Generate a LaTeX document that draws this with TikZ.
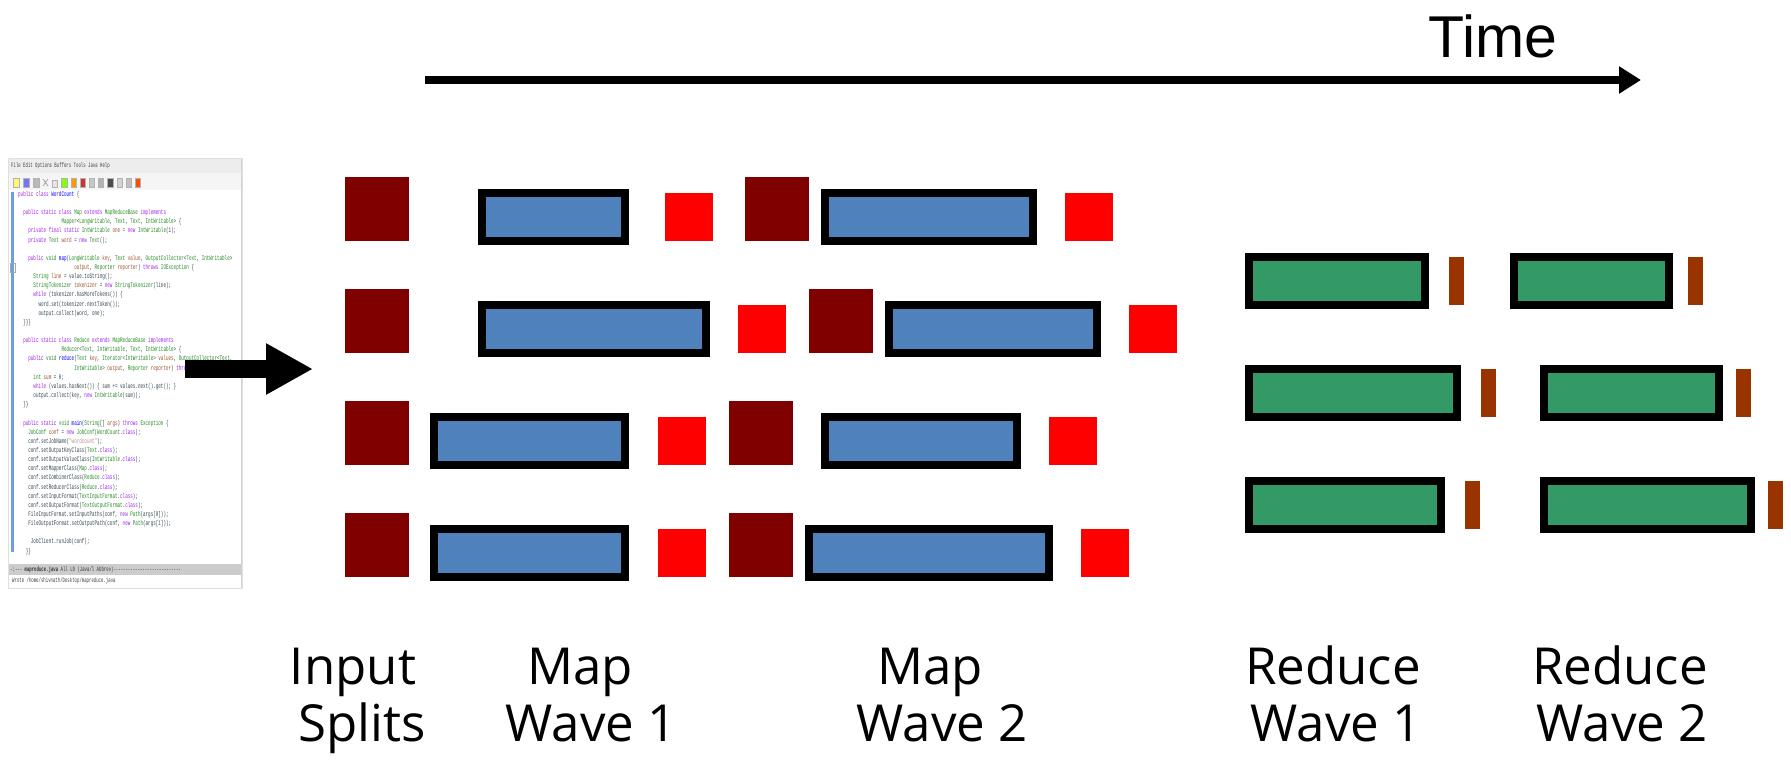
\documentclass[tikz,border=0pt]{standalone}
\usepackage{fontspec}
\setmainfont{Open Sans}
\newfontfamily\timefont{Liberation Sans}
\newfontfamily\codefont[FakeStretch=0.607,Ligatures=TeXOff]{Liberation Mono}
\usetikzlibrary{arrows.meta}
\definecolor{mapblue}{RGB}{79,129,189}
\definecolor{redgreen}{RGB}{51,153,102}
\definecolor{splitred}{RGB}{128,0,0}
\definecolor{sortred}{RGB}{255,0,0}
\definecolor{outbrown}{RGB}{153,51,0}
\definecolor{kwc}{RGB}{160,32,240}
\definecolor{tyc}{RGB}{34,139,34}
\definecolor{fncol}{RGB}{0,0,255}
\definecolor{vrc}{RGB}{160,82,45}
\definecolor{stc}{RGB}{188,143,143}
\definecolor{txc}{RGB}{50,70,80}
\definecolor{fringe}{RGB}{110,160,225}
\newcommand\kwd[1]{\textcolor{kwc}{#1}}
\newcommand\typ[1]{\textcolor{tyc}{#1}}
\newcommand\fnc[1]{\textcolor{fncol}{#1}}
\newcommand\vrb[1]{\textcolor{vrc}{#1}}
\newcommand\strg[1]{\textcolor{stc}{#1}}
\newcommand\ind[1]{\hspace*{#1\fontcharwd\font`\M}}
\begin{document}
\begin{tikzpicture}[x=1pt,y=-1pt,
  splitbox/.style={fill=splitred,draw=none,minimum width=64pt,minimum height=64pt,inner sep=0pt,outer sep=0pt},
  sortbox/.style={fill=sortred,draw=none,minimum width=48pt,minimum height=48pt,inner sep=0pt,outer sep=0pt},
  mapbox/.style={fill=mapblue,draw=black,line width=8pt,minimum height=48pt,inner sep=0pt,outer sep=0pt},
  redbox/.style={fill=redgreen,draw=black,line width=8pt,minimum height=48pt,inner sep=0pt,outer sep=0pt},
  outbar/.style={fill=outbrown,draw=none,minimum width=15pt,minimum height=48pt,inner sep=0pt,outer sep=0pt},
  lbl/.style={font=\fontsize{51}{55}\selectfont,anchor=base,inner sep=0pt},
  tiny/.style={font=\codefont\fontsize{6.6}{6.6}\selectfont,inner sep=0pt,anchor=west},
  icon/.style={draw=gray!60,line width=0.4pt},
  ]
\useasboundingbox[fill=white] (0,0) rectangle (1791,761);

% ---------- code window ----------
\fill[white] (8,158) rectangle (242,588);
\fill[gray!14] (8,159) rectangle (242,173);
\node[tiny,text=black!75] (menu) at (11,166) {File Edit Options Buffers Tools Java Help};
\fill[gray!8] (8,173) rectangle (242,190);
\filldraw[icon,fill=yellow!55] (13,178) rectangle (19,187);
\filldraw[icon,fill=blue!55] (23,178) rectangle (29,187);
\filldraw[icon,fill=gray!55] (33,178) rectangle (39,187);
\draw[gray!70,line width=0.8pt] (43,179) -- (48,186) (43,186) -- (48,179);
\filldraw[icon,fill=gray!20] (52,180) rectangle (57,187);
\filldraw[icon,fill=green!50!yellow] (61,178) rectangle (67,187);
\filldraw[icon,fill=orange!80!yellow] (71,178) rectangle (76,187);
\filldraw[icon,fill=red!60!gray] (80,178) rectangle (85,187);
\filldraw[icon,fill=gray!45] (89,178) rectangle (94,187);
\filldraw[icon,fill=gray!60] (98,178) rectangle (103,187);
\filldraw[icon,fill=black!70] (107,178) rectangle (113,187);
\filldraw[icon,fill=gray!35] (117,178) rectangle (122,187);
\filldraw[icon,fill=gray!50] (126,178) rectangle (131,187);
\filldraw[icon,fill=red!40!orange] (135,178) rectangle (140,187);
\fill[fringe] (11,192) rectangle (13.5,552);
\draw[gray!70,line width=0.6pt] (10.5,263) rectangle (15,272);
\begin{scope}
\clip (9,190) rectangle (240,562);
\node[anchor=north west,inner sep=0pt,align=left,font=\codefont\fontsize{7}{9.15}\selectfont,text=txc] (code) at (18,191) {%
\kwd{public} \kwd{class} \fnc{WordCount} \{\\
\mbox{}\\
\ind2\kwd{public} \kwd{static} \kwd{class} \typ{Map} \kwd{extends} \typ{MapReduceBase} \kwd{implements}\\
\ind{17}\typ{Mapper}<\typ{LongWritable}, \typ{Text}, \typ{Text}, \typ{IntWritable}> \{\\
\ind4\kwd{private} \kwd{final} \kwd{static} \typ{IntWritable} \vrb{one} = \kwd{new} \typ{IntWritable}(1);\\
\ind4\kwd{private} \typ{Text} \vrb{word} = \kwd{new} \typ{Text}();\\
\mbox{}\\
\ind4\kwd{public} \typ{void} \fnc{map}(\typ{LongWritable} \vrb{key}, \typ{Text} \vrb{value}, \typ{OutputCollector}<\typ{Text}, \typ{IntWritable}>\\
\ind{22}\vrb{output}, \typ{Reporter} \vrb{reporter}) \kwd{throws} \typ{IOException} \{\\
\ind6\typ{String} \vrb{line} = value.toString();\\
\ind6\typ{StringTokenizer} \vrb{tokenizer} = \kwd{new} \typ{StringTokenizer}(line);\\
\ind6\kwd{while} (tokenizer.hasMoreTokens()) \{\\
\ind{8}word.set(tokenizer.nextToken());\\
\ind{8}output.collect(word, one);\\
\ind2\}\}\}\\
\mbox{}\\
\ind2\kwd{public} \kwd{static} \kwd{class} \typ{Reduce} \kwd{extends} \typ{MapReduceBase} \kwd{implements}\\
\ind{17}\typ{Reducer}<\typ{Text}, \typ{IntWritable}, \typ{Text}, \typ{IntWritable}> \{\\
\ind4\kwd{public} \typ{void} \fnc{reduce}(\typ{Text} \vrb{key}, \typ{Iterator}<\typ{IntWritable}> \vrb{values}, \typ{OutputCollector}<\typ{Text},\\
\ind{22}\typ{IntWritable}> \vrb{output}, \typ{Reporter} \vrb{reporter}) \kwd{throws} \typ{IOException} \{\\
\ind6\typ{int} \vrb{sum} = 0;\\
\ind6\kwd{while} (values.hasNext()) \{ sum += values.next().get(); \}\\
\ind6{}output.collect(key, \kwd{new} \typ{IntWritable}(sum));\\
\ind2\}\}\\
\mbox{}\\
\ind2\kwd{public} \kwd{static} \typ{void} \fnc{main}(\typ{String}[] \vrb{args}) \kwd{throws} \typ{Exception} \{\\
\ind4\typ{JobConf} \vrb{conf} = \kwd{new} \typ{JobConf}(\typ{WordCount}.\kwd{class});\\
\ind{4}conf.setJobName(\strg{"wordcount"});\\
\ind{4}conf.setOutputKeyClass(\typ{Text}.\kwd{class});\\
\ind{4}conf.setOutputValueClass(\typ{IntWritable}.\kwd{class});\\
\ind{4}conf.setMapperClass(\typ{Map}.\kwd{class});\\
\ind{4}conf.setCombinerClass(\typ{Reduce}.\kwd{class});\\
\ind{4}conf.setReducerClass(\typ{Reduce}.\kwd{class});\\
\ind{4}conf.setInputFormat(\typ{TextInputFormat}.\kwd{class});\\
\ind{4}conf.setOutputFormat(\typ{TextOutputFormat}.\kwd{class});\\
\ind{4}FileInputFormat.setInputPaths(conf, \kwd{new} \typ{Path}(args[0]));\\
\ind{4}FileOutputFormat.setOutputPath(conf, \kwd{new} \typ{Path}(args[1]));\\
\mbox{}\\
\ind{5}JobClient.runJob(conf);\\
\ind3\}\}};
\end{scope}
\fill[gray!40] (8,564) rectangle (242,575);
\begin{scope}
\clip (8,560) rectangle (241,590);
\node[tiny,text=black!80] (status) at (10,569.5) {-:-{}-{}-  \textbf{mapreduce.java}   All L9    (Java/l Abbrev)-{}-{}-{}-{}-{}-{}-{}-{}-{}-{}-{}-{}-{}-{}-{}-{}-{}-{}-{}-{}-{}-{}-{}-{}-{}-{}-{}-};
\node[tiny,text=black!75] (mini) at (12,581) {Wrote /home/shivnath/Desktop/mapreduce.java};
\end{scope}
\draw[gray!35,line width=1pt] (241.5,158) -- (241.5,588);
\draw[gray!25,line width=0.6pt] (8,158) rectangle (242,588);

% ---------- big arrow ----------
\coordinate (a0) at (185,369);
\coordinate (a1) at (313,369);
\draw[line width=18pt,-{Triangle[length=47pt,width=48pt]}] (a0) -- (a1);

% ---------- time arrow ----------
\coordinate (t0) at (425,80);
\coordinate (t1) at (1641,80);
\draw[line width=8pt,-{Triangle[length=22pt,width=26pt]}] (t0) -- (t1);
\node[font=\timefont\fontsize{59}{62}\selectfont,anchor=base west,inner sep=0pt] (time) at (1428,57) {Time};

% ---------- input splits ----------
\node[splitbox] (s1) at (377,209) {};
\node[splitbox] (s2) at (377,321) {};
\node[splitbox] (s3) at (377,433) {};
\node[splitbox] (s4) at (377,545) {};

% ---------- map wave 1 ----------
\node[mapbox,minimum width=143pt] (m11) at (553.5,217) {};
\node[mapbox,minimum width=224pt] (m21) at (594,329) {};
\node[mapbox,minimum width=191pt] (m31) at (529.5,441) {};
\node[mapbox,minimum width=191pt] (m41) at (529.5,553) {};
\node[sortbox] (r11) at (689,217) {};
\node[sortbox] (r21) at (762,329) {};
\node[sortbox] (r31) at (682,441) {};
\node[sortbox] (r41) at (682,553) {};

% ---------- map wave 2 ----------
\node[splitbox] (s12) at (777,209) {};
\node[splitbox] (s22) at (841,321) {};
\node[splitbox] (s32) at (761,433) {};
\node[splitbox] (s42) at (761,545) {};
\node[mapbox,minimum width=208pt] (m12) at (929,217) {};
\node[mapbox,minimum width=208pt] (m22) at (993,329) {};
\node[mapbox,minimum width=192pt] (m32) at (921,441) {};
\node[mapbox,minimum width=240pt] (m42) at (929,553) {};
\node[sortbox] (r12) at (1089,217) {};
\node[sortbox] (r22) at (1153,329) {};
\node[sortbox] (r32) at (1073,441) {};
\node[sortbox] (r42) at (1105,553) {};

% ---------- reduce waves ----------
\node[redbox,minimum width=176pt] (g11) at (1337,281) {};
\node[outbar] (o11) at (1456.5,281) {};
\node[redbox,minimum width=155pt] (g12) at (1591.5,281) {};
\node[outbar] (o12) at (1695.5,281) {};
\node[redbox,minimum width=208pt] (g21) at (1353,393) {};
\node[outbar] (o21) at (1488.5,393) {};
\node[redbox,minimum width=175pt] (g22) at (1631.5,393) {};
\node[outbar] (o22) at (1743.5,393) {};
\node[redbox,minimum width=192pt] (g31) at (1345,505) {};
\node[outbar] (o31) at (1472.5,505) {};
\node[redbox,minimum width=207pt] (g32) at (1647.5,505) {};
\node[outbar] (o32) at (1775.5,505) {};

% ---------- labels ----------
\node[lbl] (lin1) at (353,684) {Input};
\node[lbl] (lin2) at (362,741) {Splits};
\node[lbl] (lm11) at (580,684) {Map};
\node[lbl] (lm12) at (591,741) {Wave 1};
\node[lbl] (lm21) at (930,684) {Map};
\node[lbl] (lm22) at (942,741) {Wave 2};
\node[lbl] (lr11) at (1333,684) {Reduce};
\node[lbl] (lr12) at (1336,741) {Wave 1};
\node[lbl] (lr21) at (1620,684) {Reduce};
\node[lbl] (lr22) at (1622,741) {Wave 2};
\end{tikzpicture}
\end{document}
